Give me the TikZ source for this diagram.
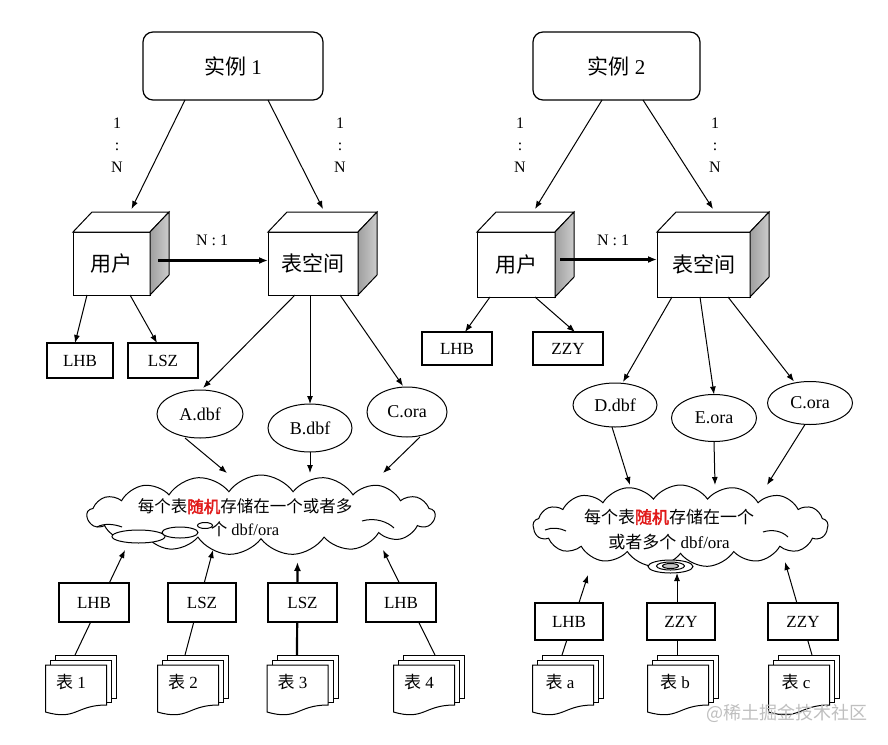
\documentclass[tikz,border=0pt]{standalone}
\usepackage{fontspec}
\setmainfont{Liberation Serif}
\newfontfamily\cjk{Noto Sans CJK SC}
\newfontfamily\cjkb[FakeBold=2.5]{Noto Sans CJK SC}
\usetikzlibrary{shapes.geometric,shapes.symbols,arrows.meta,calc}
\definecolor{redtxt}{RGB}{225,25,25}
\tikzset{
  arrowline/.style={line width=1pt,-{Latex[length=8pt,width=6pt]}},
  thickarrow/.style={line width=2.2pt,-{Latex[length=9pt,width=7pt]}},
  plainline/.style={line width=1pt},
  instbox/.style={draw,line width=1.2pt,rounded corners=10pt,fill=white,inner sep=0,outer sep=0,font=\fontsize{21}{24}\selectfont},
  cubefront/.style={draw,fill=white,line width=1pt,inner sep=0,outer sep=0,font=\cjk\fontsize{21}{24}\selectfont},
  cubeface/.style={draw,fill=white,line width=1pt},
  cubeside/.style={draw,line width=1pt,left color=gray!75,right color=gray!40},
  namebox/.style={draw,fill=white,line width=1.3pt,inner sep=0,outer sep=0,font=\fontsize{17}{20}\selectfont},
  fileell/.style={draw,ellipse,fill=white,line width=1pt,inner sep=0,outer sep=0,font=\fontsize{18}{21}\selectfont},
  ratiolabel/.style={font=\fontsize{16}{22}\selectfont,align=center,inner sep=0},
  cloudshape/.style={cloud,cloud puffs=17,cloud puff arc=110,aspect=4,draw,fill=white,line width=1pt,inner sep=0},
  cloudbubble/.style={draw,ellipse,fill=white,line width=1pt,inner sep=0},
  cloudtext/.style={align=center,inner sep=0},
  docfront/.style={inner sep=0,outer sep=0,minimum width=61pt,minimum height=47pt},
  docpage/.style={draw,fill=white,line width=1pt},
  doctext/.style={inner sep=0,font=\fontsize{17}{20}\selectfont},
}
\newcommand\cubefaces[1]{%
  \draw[cubeface] (#1.north west) -- ([shift={(19,-20)}]#1.north west) -- ([shift={(19,-20)}]#1.north east) -- (#1.north east) -- cycle;
  \draw[cubeside] (#1.north east) -- ([shift={(19,-20)}]#1.north east) -- ([shift={(19,-20)}]#1.south east) -- (#1.south east) -- cycle;}
\newcommand\docpages[1]{%
  \draw[docpage] ([shift={(10,-10)}]#1.north west) rectangle ([shift={(10,-14)}]#1.south east);
  \draw[docpage] ([shift={(5,-5)}]#1.north west) rectangle ([shift={(5,-10)}]#1.south east);
  \draw[docpage] (#1.north west) -- (#1.north east) -- ([shift={(0,-7)}]#1.south east)
     .. controls ([shift={(-31,-7)}]#1.south east) and ([shift={(31,9)}]#1.south west) .. (#1.south west) -- cycle;}
\begin{document}
\begin{tikzpicture}[x=1pt,y=-1pt]
\useasboundingbox (0,0) rectangle (888,744);
\fill[white] (0,0) rectangle (888,744);

% ---------- instances ----------
\node[instbox,minimum width=180pt,minimum height=68pt] (i1) at (233,66) {{\cjk 实例} 1};
\node[instbox,minimum width=167pt,minimum height=68pt] (i2) at (616.5,66) {{\cjk 实例} 2};

\node[ratiolabel] (r1) at (117,145) {1\\:\\N};
\node[ratiolabel] (r2) at (340,145) {1\\:\\N};
\node[ratiolabel] (r3) at (520,145) {1\\:\\N};
\node[ratiolabel] (r4) at (715,145) {1\\:\\N};

% ---------- cubes ----------
\node[cubefront,minimum width=77pt,minimum height=63pt] (u1) at (111.5,263.5) {用户};
\cubefaces{u1}
\node[cubefront,minimum width=90pt,minimum height=63pt] (t1) at (313,263.5) {表空间};
\cubefaces{t1}
\node[cubefront,minimum width=78pt,minimum height=65pt] (u2) at (516,264.5) {用户};
\cubefaces{u2}
\node[cubefront,minimum width=93pt,minimum height=65pt] (t2) at (703.5,264.5) {表空间};
\cubefaces{t2}

\draw[arrowline] ([xshift=-48pt]i1.south) -- ([xshift=20pt,yshift=23pt]u1.north);
\draw[arrowline] ([xshift=35pt]i1.south) -- ([xshift=10pt,yshift=23pt]t1.north);
\draw[arrowline] ([xshift=-14.5pt]i2.south) -- ([xshift=19pt,yshift=23pt]u2.north);
\draw[arrowline] ([xshift=26.5pt]i2.south) -- ([xshift=9.5pt,yshift=23pt]t2.north);

\draw[thickarrow] ([xshift=8pt,yshift=3pt]u1.east) -- ([yshift=3pt]t1.west);
\node[ratiolabel] (n1) at (212,240) {N : 1};
\draw[thickarrow] ([xshift=5pt,yshift=5pt]u2.east) -- ([yshift=5pt]t2.west);
\node[ratiolabel] (n2) at (613,240) {N : 1};

% ---------- user boxes ----------
\node[namebox,minimum width=66pt,minimum height=35pt] (lhb1) at (80,360.5) {LHB};
\node[namebox,minimum width=70pt,minimum height=35pt] (lsz1) at (163,360.5) {LSZ};
\node[namebox,minimum width=70pt,minimum height=33pt] (lhb2) at (457,348.5) {LHB};
\node[namebox,minimum width=70pt,minimum height=33pt] (zzy1) at (568,348.5) {ZZY};
\draw[arrowline] ([xshift=-24.5pt]u1.south) -- ([xshift=-5pt]lhb1.north);
\draw[arrowline] ([xshift=18.5pt]u1.south) -- ([xshift=-6pt]lsz1.north);
\draw[arrowline] ([xshift=-26pt]u2.south) -- ([xshift=8pt]lhb2.north);
\draw[arrowline] ([xshift=19pt]u2.south) -- ([xshift=7pt]zzy1.north);

% ---------- data files ----------
\node[fileell,minimum width=86pt,minimum height=48pt] (eA) at (200,414) {A.dbf};
\node[fileell,minimum width=84pt,minimum height=48pt] (eB) at (310,428) {B.dbf};
\node[fileell,minimum width=80pt,minimum height=50pt] (eC) at (407,412) {C.ora};
\node[fileell,minimum width=84pt,minimum height=44pt] (eD) at (615,405) {D.dbf};
\node[fileell,minimum width=85pt,minimum height=47pt] (eE) at (714,418) {E.ora};
\node[fileell,minimum width=85pt,minimum height=43pt] (eF) at (810,403) {C.ora};
\draw[arrowline] ([xshift=-18pt]t1.south) -- ([xshift=3pt,yshift=2pt]eA.north);
\draw[arrowline] ([xshift=-3pt]t1.south) -- (eB.north);
\draw[arrowline] ([xshift=27pt]t1.south) -- ([xshift=-4pt,yshift=1pt]eC.north);
\draw[arrowline] ([xshift=-31.5pt]t2.south) -- ([xshift=8pt,yshift=1pt]eD.north);
\draw[arrowline] ([xshift=-3.5pt]t2.south) -- (eE.north);
\draw[arrowline] ([xshift=24.5pt]t2.south) -- ([xshift=-16pt]eF.north);

% ---------- clouds ----------
\node[cloudshape,minimum width=348pt,minimum height=80pt] (cl1) at (261,515) {};
\node[cloudshape,minimum width=295pt,minimum height=82pt] (cl2) at (680.5,526) {};
\draw[plainline] (362,521) .. controls (375,517) and (388,522) .. (394,528);
\draw[plainline] (97,527) .. controls (104,523) and (114,524) .. (122,527);
\draw[plainline] (763,532) .. controls (772,529) and (782,531) .. (788,537);
\draw[plainline] (545,530) .. controls (552,527) and (560,528) .. (566,531);
\node[cloudbubble,minimum width=53pt,minimum height=13pt] (bb1) at (138.5,536.5) {};
\node[cloudbubble,minimum width=36pt,minimum height=11pt] (bb2) at (180,532.5) {};
\node[cloudbubble,minimum width=15pt,minimum height=6pt] (bb3) at (205,525.5) {};
\node[cloudbubble,minimum width=45pt,minimum height=13pt] (bb4) at (670.5,566.5) {};
\node[cloudbubble,minimum width=28pt,minimum height=8pt] (bb5) at (670.5,566) {};
\node[cloudbubble,fill=gray!45,minimum width=16pt,minimum height=5pt] (bb6) at (670.5,566) {};

\node[cloudtext,font=\fontsize{16.5}{23}\selectfont] (ct1) at ([shift={(-16,3)}]cl1.center)
  {{\cjk 每个表}{\cjkb\color{redtxt}随机}{\cjk 存储在一个或者多}\\{\cjk 个} dbf/ora};
\node[cloudtext,font=\fontsize{17}{25}\selectfont] (ct2) at ([shift={(-11.5,3.5)}]cl2.center)
  {{\cjk 每个表}{\cjkb\color{redtxt}随机}{\cjk 存储在一个}\\{\cjk 或者多个} dbf/ora};

\draw[arrowline] ([xshift=-15pt]eA.south) -- ([shift={(-34,-42)}]cl1.center);
\draw[arrowline] (eB.south) -- ([shift={(49,-42)}]cl1.center);
\draw[arrowline] ([xshift=13pt]eC.south) -- ([shift={(122,-42)}]cl1.center);
\draw[arrowline] ([xshift=-3pt]eD.south) -- ([shift={(-50.5,-41)}]cl2.center);
\draw[arrowline] (eE.south) -- ([shift={(34.5,-41)}]cl2.center);
\draw[arrowline] ([xshift=-5pt]eF.south) -- ([shift={(86.5,-41)}]cl2.center);

% ---------- tables ----------
\node[docfront] (d1) at (76,688.5) {};
\node[docfront] (d2) at (188,688.5) {};
\node[docfront] (d3) at (297.5,688.5) {};
\node[docfront] (d4) at (424,688.5) {};
\node[docfront] (d5) at (563,688.5) {};
\node[docfront] (d6) at (678,688.5) {};
\node[docfront] (d7) at (799,688.5) {};

\draw[arrowline] ([shift={(-1,-10)}]d1.north) -- ([shift={(-136,35)}]cl1.center);
\draw[arrowline] ([shift={(-3,-10)}]d2.north) -- ([shift={(-48,35)}]cl1.center);
\draw[thickarrow] ([shift={(-0.5,-10)}]d3.north) -- ([shift={(36.5,47)}]cl1.center);
\draw[arrowline] ([shift={(11,-10)}]d4.north) -- ([shift={(122,35)}]cl1.center);
\draw[arrowline] ([shift={(-1,-10)}]d5.north) -- ([shift={(-92.5,49)}]cl2.center);
\draw[arrowline] ([shift={(-1,-10)}]d6.north) -- ([shift={(-3.5,47)}]cl2.center);
\draw[arrowline] ([shift={(13,-10)}]d7.north) -- ([shift={(104.5,36)}]cl2.center);

\node[namebox,minimum width=70pt,minimum height=39pt] (b1) at (94,602.5) {LHB};
\node[namebox,minimum width=68pt,minimum height=39pt] (b2) at (202,602.5) {LSZ};
\node[namebox,minimum width=69pt,minimum height=39pt] (b3) at (302.5,602.5) {LSZ};
\node[namebox,minimum width=70pt,minimum height=39pt] (b4) at (401,602.5) {LHB};
\node[namebox,minimum width=68pt,minimum height=37pt] (b5) at (569,621.5) {LHB};
\node[namebox,minimum width=68pt,minimum height=37pt] (b6) at (681,621.5) {ZZY};
\node[namebox,minimum width=70pt,minimum height=37pt] (b7) at (803,621.5) {ZZY};

\docpages{d1}\docpages{d2}\docpages{d3}\docpages{d4}
\docpages{d5}\docpages{d6}\docpages{d7}
\node[doctext] (x1) at ([shift={(-5,-6)}]d1.center) {{\cjk 表} 1};
\node[doctext] (x2) at ([shift={(-5,-6)}]d2.center) {{\cjk 表} 2};
\node[doctext] (x3) at ([shift={(-5,-6)}]d3.center) {{\cjk 表} 3};
\node[doctext] (x4) at ([shift={(-5,-6)}]d4.center) {{\cjk 表} 4};
\node[doctext] (x5) at ([shift={(-3,-6)}]d5.center) {{\cjk 表} a};
\node[doctext] (x6) at ([shift={(-3,-6)}]d6.center) {{\cjk 表} b};
\node[doctext] (x7) at ([shift={(-3,-6)}]d7.center) {{\cjk 表} c};

\node[inner sep=0,text=gray!50,font=\cjk\fontsize{18}{20}\selectfont] (wm) at (787,713) {@稀土掘金技术社区};
\end{tikzpicture}
\end{document}
